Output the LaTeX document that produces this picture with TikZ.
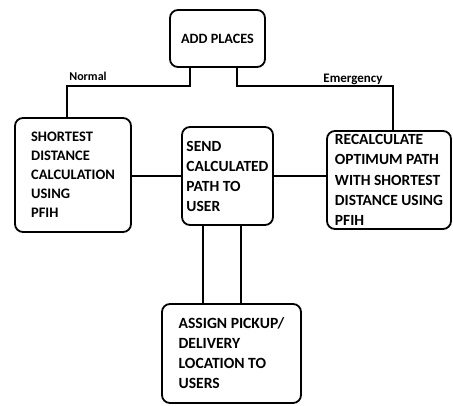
\documentclass[tikz,border=0pt]{standalone}
\usepackage{fontspec}
\setmainfont{Carlito}
\begin{document}
\begin{tikzpicture}[x=1pt,y=-1pt,
  box/.style={draw, line width=1.8pt, rounded corners=8pt, align=left, inner sep=0pt},
  conn/.style={line width=1.8pt},
  lbl/.style={inner sep=0pt, anchor=base}]
\useasboundingbox (0,0) rectangle (453,405);
\node[box, minimum width=95pt, minimum height=57pt, font=\bfseries\fontsize{14.2}{17}\selectfont] (add) at (217.5,38.5) {ADD PLACES};
\node[box, minimum width=116pt, minimum height=114pt, font=\bfseries\fontsize{14.5}{19}\selectfont] (left) at (73,175) {SHORTEST\\DISTANCE\\CALCULATION\\USING\\PFIH};
\node[box, minimum width=91pt, minimum height=98pt, font=\bfseries\fontsize{15.5}{20}\selectfont] (mid) at (227.5,176) {SEND\\CALCULATED\\PATH TO\\USER};
\node[box, minimum width=124pt, minimum height=98pt, font=\bfseries\fontsize{15.5}{20.3}\selectfont] (right) at (389,180) {RECALCULATE\\OPTIMUM PATH\\WITH SHORTEST\\DISTANCE USING\\PFIH};
\node[box, minimum width=139pt, minimum height=99pt, font=\bfseries\fontsize{15.6}{20}\selectfont] (bot) at (231.5,353.5) {ASSIGN PICKUP/\\DELIVERY\\LOCATION TO\\USERS};
\node[lbl, font=\bfseries\fontsize{12}{14}\selectfont] (normal) at (88,80) {Normal};
\node[lbl, font=\bfseries\fontsize{13}{15}\selectfont] (emerg) at (353,82) {Emergency};
\draw[conn] ([xshift=-27.5pt]add.south) -- ([xshift=-27.5pt]add.south |- 0,86) -| ([xshift=-6pt]left.north);
\draw[conn] ([xshift=19.5pt]add.south) -- ([xshift=19.5pt]add.south |- 0,86) -| ([xshift=4pt]right.north);
\draw[conn] (mid.west) -- (mid.west -| left.east);
\draw[conn] (mid.east) -- (mid.east -| right.west);
\draw[conn] ([xshift=-24.5pt]mid.south) -- ([xshift=-24.5pt]mid.south |- bot.north);
\draw[conn] ([xshift=13.5pt]mid.south) -- ([xshift=13.5pt]mid.south |- bot.north);
\end{tikzpicture}
\end{document}
